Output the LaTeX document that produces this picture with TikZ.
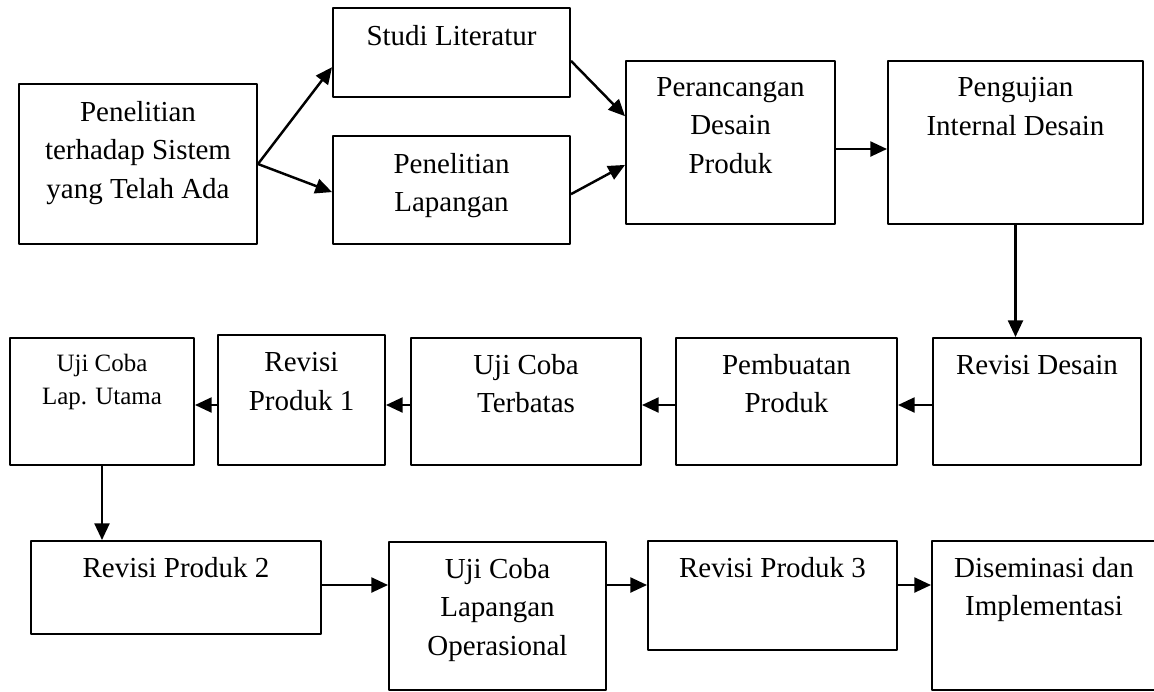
\documentclass[tikz,border=0pt]{standalone}
\usepackage{fontspec}
\setmainfont{Liberation Serif}
\usetikzlibrary{arrows.meta,positioning}
\begin{document}
\begin{tikzpicture}[x=0.02cm, y=-0.02cm, >={Triangle[length=9.5pt,width=8.5pt]}, line join=round,
	kotak/.style 2 args={draw, line width=1.1pt, inner sep=0pt, minimum width=#1*0.02cm, minimum height=#2*0.02cm},
	teks/.style={inner sep=0pt, align=center, font=\fontsize{16.5}{21.9}\selectfont},
	panah/.style={->, line width=1.4pt}]
	\useasboundingbox (0,0) rectangle (1154,691);
	\coordinate (r1) at (0,149);
	\coordinate (r2) at (0,405);
	\coordinate (r3) at (0,585);
	
	% baris pertama
	\node[kotak={238}{160}] (A) at (138,164) {};
	\node[kotak={237}{89}] (B) at (451.5,52.5) {};
	\node[kotak={237}{108}] (C) at (451.5,190) {};
	\node[kotak={209}{163}] (D) at (730.5,142.5) {};
	\node[kotak={255}{163}] (E) at (1015.5,142.5) {};
	
	% baris kedua
	\node[kotak={184}{127}] (F) at (102,401.5) {};
	\node[kotak={167}{130}] (G) at (301.5,400) {};
	\node[kotak={230}{127}] (H) at (526,401.5) {};
	\node[kotak={221}{127}] (I) at (786.5,401.5) {};
	\node[kotak={208}{127}] (J) at (1037,401.5) {};
	
	% baris ketiga
	\node[kotak={290}{93}] (K) at (176,587.5) {};
	\node[kotak={217}{148}] (L) at (497.5,616) {};
	\node[kotak={249}{109}] (M) at (772.5,595.5) {};
	\node[kotak={224}{149}] (N) at (1044,615.5) {};
	
	\node[teks, below=0.36cm of A.north] {Penelitian\\terhadap Sistem\\yang Telah Ada};
	\node[teks, below=0.36cm of B.north] {Studi Literatur};
	\node[teks, below=0.36cm of C.north] {Penelitian\\Lapangan};
	\node[teks, below=0.34cm of D.north] {Perancangan\\Desain\\Produk};
	\node[teks, below=0.34cm of E.north] {Pengujian\\Internal Desain};
	\node[teks, font=\fontsize{14.2}{18.8}\selectfont, below=0.34cm of F.north] {Uji Coba\\Lap. Utama};
	\node[teks, below=0.36cm of G.north] {Revisi\\Produk 1};
	\node[teks, below=0.34cm of H.north] {Uji Coba\\Terbatas};
	\node[teks, below=0.34cm of I.north] {Pembuatan\\Produk};
	\node[teks, below=0.36cm of J.north] {Revisi Desain};
	\node[teks, below=0.34cm of K.north] {Revisi Produk 2};
	\node[teks, below=0.34cm of L.north] {Uji Coba\\Lapangan\\Operasional};
	\node[teks, below=0.34cm of M.north] {Revisi Produk 3};
	\node[teks, below=0.34cm of N.north] {Diseminasi dan\\Implementasi};
	
	\draw[panah] (A.east) -- (B.187);
	\draw[panah] (A.east) -- (C.181);
	\draw[panah] (B.356) -- (D.166);
	\draw[panah] (C.358) -- (D.192);
	\draw[panah] (D.east |- r1) -- (E.west |- r1);
	\draw[panah] (E.south) -- (E.south |- J.north);
	
	\draw[panah] (J.west |- r2) -- (I.east |- r2);
	\draw[panah] (I.west |- r2) -- (H.east |- r2);
	\draw[panah] (H.west |- r2) -- (G.east |- r2);
	\draw[panah] (G.west |- r2) -- (F.east |- r2);
	\draw[panah] (F.south) -- (F.south |- K.north);
	
	\draw[panah] (K.east |- r3) -- (L.west |- r3);
	\draw[panah] (L.east |- r3) -- (M.west |- r3);
	\draw[panah] (M.east |- r3) -- (N.west |- r3);
\end{tikzpicture}
\end{document}
